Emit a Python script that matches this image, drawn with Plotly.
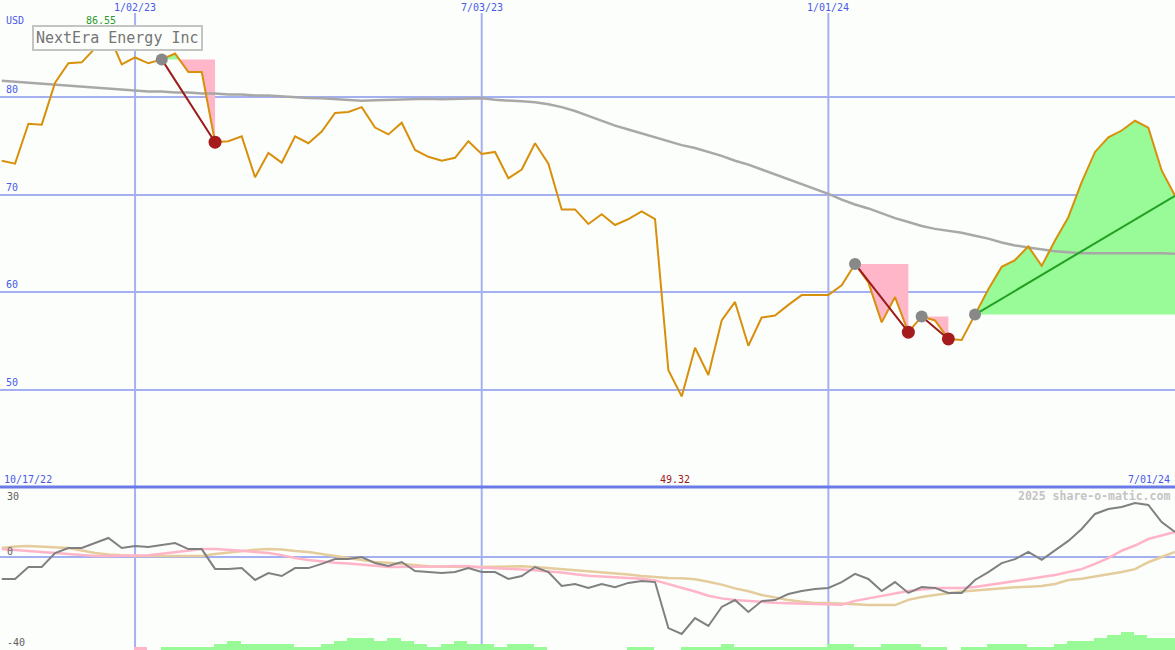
import pandas as pd
import plotly.graph_objects as go

# ---------------- data ----------------
start_date = "2022-10-24"
n_weeks = 89

price = [73.5, 73.2, 77.3, 77.2, 81.5, 83.5, 83.6, 85.0, 86.5, 83.4,
         84.1, 83.5, 83.9, 84.5, 82.6, 82.6, 75.4, 75.5, 76.0, 71.8,
         74.3, 73.3, 76.0, 75.3, 76.5, 78.4, 78.5, 79.0, 76.9, 76.2,
         77.4, 74.6, 73.9, 73.5, 73.8, 75.5, 74.2, 74.4, 71.7, 72.6,
         75.3, 73.2, 68.5, 68.5, 67.0, 68.0, 66.9, 67.5, 68.3, 67.5,
         52.0, 49.3, 54.3, 51.5, 57.1, 59.0, 54.5, 57.4, 57.6, 58.7,
         59.7, 59.7, 59.7, 60.7, 62.9, 61.0, 56.9, 59.5, 55.9, 57.5,
         57.1, 55.2, 55.1, 57.7, 60.3, 62.6, 63.3, 64.7, 62.7, 65.3,
         67.7, 71.3, 74.4, 75.9, 76.6, 77.6, 76.9, 72.5, 69.9]

ma_long = [81.7, 81.6, 81.5, 81.4, 81.3, 81.2, 81.1, 81.0, 80.9, 80.8,
           80.7, 80.6, 80.6, 80.5, 80.5, 80.4, 80.4, 80.3, 80.3, 80.2,
           80.2, 80.1, 80.0, 79.95, 79.9, 79.8, 79.7, 79.65, 79.7, 79.75,
           79.8, 79.85, 79.85, 79.8, 79.85, 79.9, 79.9, 79.75, 79.7, 79.6,
           79.5, 79.3, 79.0, 78.6, 78.1, 77.6, 77.1, 76.7, 76.3, 75.9,
           75.5, 75.1, 74.8, 74.4, 74.0, 73.5, 73.1, 72.6, 72.1, 71.6,
           71.1, 70.6, 70.1, 69.5, 69.0, 68.6, 68.1, 67.6, 67.2, 66.8,
           66.5, 66.3, 66.1, 65.8, 65.5, 65.1, 64.8, 64.6, 64.4, 64.2,
           64.1, 64.0, 64.0, 64.0, 64.0, 64.05, 64.05, 64.0, 63.95]

momentum = [-10.5, -10.5, -4.8, -4.8, 1.9, 4.3, 4.3, 6.7, 9.1, 4.3,
            5.3, 4.8, 5.7, 6.7, 3.8, 3.8, -5.7, -5.7, -5.3, -11.0,
            -7.7, -9.1, -5.3, -5.3, -3.3, -1.0, -1.0, 0.0, -2.9, -4.3,
            -2.4, -6.7, -7.2, -7.7, -7.2, -5.3, -7.2, -7.2, -10.5, -9.1,
            -4.8, -7.2, -13.9, -12.9, -14.8, -12.9, -14.4, -12.4, -11.5, -12.0,
            -34.0, -36.8, -29.2, -33.0, -23.9, -20.6, -26.3, -21.1, -20.6, -17.7,
            -16.3, -15.3, -14.8, -12.0, -8.1, -10.5, -16.3, -12.0, -17.2, -14.4,
            -14.8, -17.2, -17.2, -11.0, -7.2, -2.9, -1.0, 2.4, -1.4, 3.3,
            7.7, 13.4, 20.6, 23.0, 23.9, 25.8, 24.9, 16.7, 12.0]

mom_fast = [3.8, 3.3, 2.9, 2.4, 1.9, 1.4, 1.0, 0.5, 0.5, 0.5,
            0.5, 0.8, 1.6, 2.4, 2.9, 3.8, 3.8, 3.5, 3.0, 2.4,
            1.9, 0.9, -0.5, -1.4, -2.2, -2.7, -3.1, -3.5, -4.2, -4.8,
            -4.8, -4.8, -4.8, -4.6, -4.3, -4.4, -5.0, -5.3, -5.5, -5.7,
            -6.3, -6.9, -7.4, -8.3, -9.0, -9.3, -9.6, -10.0, -10.4, -11.2,
            -13.0, -14.5, -16.5, -18.5, -19.8, -20.6, -21.1, -21.5, -21.9, -22.1,
            -22.3, -22.5, -22.8, -22.8, -21.0, -19.8, -18.5, -17.2, -16.3, -15.5,
            -14.8, -14.8, -14.8, -14.4, -13.5, -12.4, -11.5, -10.5, -9.6, -8.6,
            -7.2, -5.8, -3.3, -0.5, 3.0, 5.5, 8.6, 10.3, 12.0]

mom_slow = [4.3, 5.0, 5.3, 5.0, 4.6, 4.3, 3.1, 1.9, 1.2, 0.8,
            0.5, 0.5, 0.5, 0.5, 0.5, 0.5, 1.4, 2.2, 2.9, 3.5,
            3.8, 3.6, 2.9, 2.4, 1.4, 0.5, -0.4, -1.3, -2.4, -2.8,
            -3.3, -4.0, -4.4, -4.6, -4.8, -4.8, -4.8, -4.6, -4.4, -4.4,
            -4.8, -5.3, -5.8, -6.2, -6.7, -7.2, -7.7, -8.4, -9.1, -9.6,
            -10.0, -10.2, -10.6, -11.8, -13.2, -15.0, -16.4, -18.2, -19.5, -20.6,
            -21.4, -22.0, -22.0, -22.2, -22.6, -23.0, -23.0, -23.0, -20.5, -19.1,
            -18.2, -17.2, -16.5, -16.0, -15.4, -14.9, -14.5, -14.2, -13.9, -12.9,
            -11.0, -10.4, -9.3, -8.4, -7.2, -5.8, -2.5, 0.0, 2.4]

vol_up = [0, 0, 0, 0, 0, 0, 0, 0, 0, 0,
          0, 0, 1, 1, 1, 1, 2, 3, 2, 2,
          2, 2, 1, 1, 2, 3, 4, 4, 3, 4,
          3, 2, 1, 2, 3, 2, 2, 1, 2, 2,
          1, 0, 0, 0, 0, 0, 0, 1, 1, 0,
          0, 1, 1, 1, 2, 1, 1, 1, 1, 1,
          1, 1, 2, 2, 1, 1, 2, 2, 2, 1,
          1, 0, 1, 1, 2, 2, 2, 1, 1, 2,
          3, 3, 4, 5, 6, 5, 4, 4, 4]
vol_down = [0] * 10 + [1] + [0] * 78

sig_start = [12, 64, 69, 73]
sig_end = [16, 68, 71, 88]
sig_kind = ["sell", "sell", "sell", "buy"]

grid_dates = ["2023-01-02", "2023-07-03", "2024-01-01"]
grid_labels = ["1/02/23", "7/03/23", "1/01/24"]
first_label = "10/17/22"
last_label = "7/01/24"
hi_label = "86.55"
lo_label = "49.32"
title = "NextEra Energy Inc"
watermark = "2025 share-o-matic.com"
price_ticks = [80, 70, 60, 50]
osc_ticks = [30, 0, -40]

# ---------------- styling ----------------
W, H = 1175, 650
BG = "#fcfefc"
GRID = "#a4b0f0"
BLUE_TXT = "#4a5ae8"
FONT = "DejaVu Sans Mono"
split_px = 487
split = 1 - split_px / H

dates = pd.date_range(start_date, periods=n_weeks, freq="7D")
x_range = [pd.Timestamp("2022-10-23 02:00"), pd.Timestamp("2024-07-01 00:00")]

fig = go.Figure()


def fill_polys(s, e):
    xs = [d.value for d in dates[s:e + 1]]
    ps = price[s:e + 1]
    b = price[s]
    px_, pp_ = [xs[0]], [ps[0]]
    for k in range(1, len(xs)):
        p0, p1 = ps[k - 1], ps[k]
        if (p0 - b) * (p1 - b) < 0:
            t = (b - p0) / (p1 - p0)
            px_.append(xs[k - 1] + t * (xs[k] - xs[k - 1]))
            pp_.append(b)
        px_.append(xs[k])
        pp_.append(ps[k])
    xd = list(pd.to_datetime(px_))
    up = [max(p, b) for p in pp_]
    dn = [min(p, b) for p in pp_]
    xx = xd + xd[::-1]
    return xx, up + [b] * len(xd), xx, dn + [b] * len(xd)


# fills
for s, e in zip(sig_start, sig_end):
    xa, ya, xb, yb = fill_polys(s, e)
    fig.add_trace(go.Scatter(x=xa, y=ya, fill="toself", fillcolor="#98fb98",
                             mode="lines", line=dict(width=0), hoverinfo="skip",
                             xaxis="x", yaxis="y", showlegend=False))
    fig.add_trace(go.Scatter(x=xb, y=yb, fill="toself", fillcolor="#ffb6c8",
                             mode="lines", line=dict(width=0), hoverinfo="skip",
                             xaxis="x", yaxis="y", showlegend=False))

# long moving average
fig.add_trace(go.Scatter(x=dates, y=ma_long, mode="lines",
                         line=dict(color="#a8a8a8", width=2.5),
                         xaxis="x", yaxis="y", showlegend=False))
# price
fig.add_trace(go.Scatter(x=dates, y=price, mode="lines",
                         line=dict(color="#d8900c", width=2),
                         xaxis="x", yaxis="y", showlegend=False))

# signal lines and markers
for s, e, k in zip(sig_start, sig_end, sig_kind):
    col = "#9b1b1b" if k == "sell" else "#22a022"
    fig.add_trace(go.Scatter(x=[dates[s], dates[e]], y=[price[s], price[e]],
                             mode="lines", line=dict(color=col, width=2),
                             xaxis="x", yaxis="y", showlegend=False))
for s, e, k in zip(sig_start, sig_end, sig_kind):
    fig.add_trace(go.Scatter(x=[dates[s]], y=[price[s]], mode="markers",
                             marker=dict(color="#888888", size=12),
                             xaxis="x", yaxis="y", showlegend=False))
    if k == "sell":
        fig.add_trace(go.Scatter(x=[dates[e]], y=[price[e]], mode="markers",
                                 marker=dict(color="#a51c1c", size=13),
                                 xaxis="x", yaxis="y", showlegend=False))

# oscillator panel
fig.add_trace(go.Scatter(x=dates, y=mom_slow, mode="lines",
                         line=dict(color="#e4cc9c", width=2.5),
                         xaxis="x2", yaxis="y2", showlegend=False))
fig.add_trace(go.Scatter(x=dates, y=mom_fast, mode="lines",
                         line=dict(color="#ffb4c8", width=2.5),
                         xaxis="x2", yaxis="y2", showlegend=False))
fig.add_trace(go.Scatter(x=dates, y=momentum, mode="lines",
                         line=dict(color="#808080", width=2),
                         xaxis="x2", yaxis="y2", showlegend=False))

bar_x = dates + pd.Timedelta(days=3)
bar_w = 7 * 86400000
fig.add_trace(go.Bar(x=bar_x, y=vol_up, width=bar_w, marker=dict(color="#98fb98", line=dict(width=0)),
                     xaxis="x2", yaxis="y3", showlegend=False))
fig.add_trace(go.Bar(x=bar_x, y=vol_down, width=bar_w, marker=dict(color="#ffb6c8", line=dict(width=0)),
                     xaxis="x2", yaxis="y3", showlegend=False))

# shapes
shapes = []
for d in grid_dates:
    shapes.append(dict(type="line", xref="x", yref="paper", x0=d, x1=d,
                       y0=0, y1=1 - 13 / H, line=dict(color=GRID, width=2), layer="below"))
shapes.append(dict(type="line", xref="paper", yref="paper", x0=0, x1=1, y0=split, y1=split,
                   line=dict(color="#6a7ae6", width=3), layer="above"))

# annotations
ann = []
for d, t in zip(grid_dates, grid_labels):
    ann.append(dict(x=d, xref="x", y=1, yref="paper", yanchor="top", xanchor="center",
                    text=t, showarrow=False, font=dict(family=FONT, size=10, color=BLUE_TXT)))
ann.append(dict(x=4 / W, xref="paper", y=1 - 20 / H, yref="paper", xanchor="left", yanchor="middle",
                text="USD", showarrow=False, font=dict(family=FONT, size=10, color=BLUE_TXT)))
for v in price_ticks:
    ann.append(dict(x=4 / W, xref="paper", y=v, yref="y", xanchor="left", yanchor="bottom",
                    text=str(v), showarrow=False, font=dict(family=FONT, size=10, color=BLUE_TXT)))
ann.append(dict(x=2 / W, xref="paper", y=1 - 479 / H, yref="paper", xanchor="left", yanchor="middle",
                text=first_label, showarrow=False, font=dict(family=FONT, size=10, color=BLUE_TXT)))
ann.append(dict(x=1 - 3 / W, xref="paper", y=1 - 479 / H, yref="paper", xanchor="right", yanchor="middle",
                text=last_label, showarrow=False, font=dict(family=FONT, size=10, color=BLUE_TXT)))
i_hi = price.index(max(price))
i_lo = price.index(min(price))
ann.append(dict(x=dates[i_hi], xref="x", xshift=-7, y=1 - 20 / H, yref="paper", yanchor="middle",
                text=hi_label, showarrow=False, font=dict(family=FONT, size=10, color="#2a9a2a")))
ann.append(dict(x=dates[i_lo], xref="x", xshift=-7, y=1 - 479 / H, yref="paper", yanchor="middle",
                text=lo_label, showarrow=False, font=dict(family=FONT, size=10, color="#a01818")))
osc_y = {30: (496, "middle"), 0: (551, "middle"), -40: (642, "middle")}
for v in osc_ticks:
    py, ya = osc_y[v]
    ann.append(dict(x=5 / W, xref="paper", y=1 - py / H, yref="paper", xanchor="left", yanchor=ya,
                    text=str(v), showarrow=False, font=dict(family=FONT, size=10, color="#606060")))
ann.append(dict(x=1 - 3 / W, xref="paper", y=1 - 496 / H, yref="paper", xanchor="right", yanchor="middle",
                text="<b>" + watermark + "</b>", showarrow=False,
                font=dict(family=FONT, size=11.5, color="#c4c4c4")))
ann.append(dict(x=32 / W, xref="paper", y=1 - 25 / H, yref="paper", xanchor="left", yanchor="top",
                text=title, showarrow=False, bgcolor=BG, bordercolor="#c4c4c4", borderwidth=2,
                borderpad=2, font=dict(family=FONT, size=15, color="#757575")))

fig.update_layout(
    width=W, height=H, margin=dict(l=0, r=0, t=0, b=0),
    paper_bgcolor=BG, plot_bgcolor=BG, showlegend=False, barmode="overlay", bargap=0,
    xaxis=dict(domain=[0, 1], range=x_range, type="date", showticklabels=False,
               showgrid=False, zeroline=False, anchor="y"),
    xaxis2=dict(domain=[0, 1], range=x_range, type="date", showticklabels=False,
                showgrid=False, zeroline=False, anchor="y2", matches="x"),
    yaxis=dict(domain=[split, 1], range=[40, 90], tickvals=[50, 60, 70, 80], showticklabels=False,
               gridcolor=GRID, gridwidth=2, zeroline=False, anchor="x"),
    yaxis2=dict(domain=[0, split], range=[-44.5, 33.5], tickvals=[0], showticklabels=False,
                gridcolor=GRID, gridwidth=2, zeroline=False, anchor="x2"),
    yaxis3=dict(overlaying="y2", range=[0, (H - split_px) / 3], visible=False,
                anchor="x2"),
    shapes=shapes, annotations=ann,
)

fig.write_html("out.html", config={"displayModeBar": False},
               post_script="document.body.style.margin='0px';document.body.style.overflow='hidden';")
